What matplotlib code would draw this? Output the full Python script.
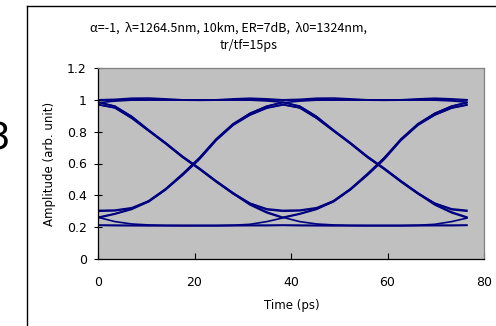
import matplotlib
matplotlib.use("Agg")
import matplotlib.pyplot as plt
from matplotlib.lines import Line2D
import numpy as np

# ---- data (one bit slot, sample centre -> next centre) ----
bit_period = 38.3
slot_t = [0, 3.5, 7, 10.5, 14, 17.5, 21, 24.5, 28, 31.5, 35, 38.3]

fall_110_101 = [0.985, 0.96, 0.895, 0.81, 0.73, 0.645, 0.57, 0.49, 0.415, 0.35, 0.31, 0.30]
fall_110_100 = [0.985, 0.96, 0.895, 0.81, 0.73, 0.645, 0.57, 0.49, 0.415, 0.345, 0.295, 0.262]
fall_010_101 = [0.97, 0.95, 0.885, 0.805, 0.725, 0.64, 0.565, 0.485, 0.41, 0.35, 0.315, 0.305]
fall_010_100 = [0.97, 0.95, 0.885, 0.805, 0.725, 0.64, 0.565, 0.485, 0.41, 0.34, 0.29, 0.258]

rise_001_011 = [0.262, 0.285, 0.315, 0.365, 0.44, 0.53, 0.63, 0.75, 0.845, 0.915, 0.96, 0.982]
rise_001_010 = [0.258, 0.282, 0.312, 0.36, 0.435, 0.525, 0.625, 0.745, 0.84, 0.905, 0.95, 0.97]
rise_101_011 = [0.30, 0.303, 0.318, 0.36, 0.435, 0.53, 0.635, 0.755, 0.85, 0.915, 0.96, 0.985]
rise_101_010 = [0.305, 0.307, 0.322, 0.365, 0.44, 0.535, 0.635, 0.75, 0.845, 0.905, 0.948, 0.968]

high_111 = [1.0, 1.0, 1.0, 1.0, 1.0, 0.998, 0.997, 0.998, 1.0, 1.0, 1.0, 1.0]
high_bump = [1.0, 1.003, 1.01, 1.011, 1.006, 1.0, 0.998, 1.0, 1.006, 1.01, 1.006, 1.0]
high_011 = [0.982, 0.992, 0.998, 1.0, 1.0, 1.0, 1.0, 1.0, 1.0, 1.0, 1.0, 1.0]
high_110 = [1.0, 1.0, 1.0, 1.0, 1.0, 1.0, 1.0, 1.0, 1.0, 0.998, 0.993, 0.985]

low_000 = [0.212, 0.212, 0.211, 0.21, 0.21, 0.21, 0.21, 0.21, 0.211, 0.212, 0.212, 0.212]
low_100 = [0.262, 0.235, 0.22, 0.214, 0.211, 0.21, 0.21, 0.21, 0.21, 0.21, 0.21, 0.212]
low_001 = [0.212, 0.21, 0.21, 0.21, 0.21, 0.21, 0.21, 0.21, 0.212, 0.218, 0.235, 0.258]

slot_traces = [fall_110_101, fall_110_100, fall_010_101, fall_010_100,
               rise_001_011, rise_001_010, rise_101_011, rise_101_010,
               high_111, high_bump, high_011, high_110,
               low_000, low_100, low_001]
n_slots = 2

title_line1 = "α=-1,  λ=1264.5nm, 10km, ER=7dB,  λ0=1324nm,"
title_line2 = "tr/tf=15ps"
x_ticks = [0, 20, 40, 60, 80]
y_ticks = [0, 0.2, 0.4, 0.6, 0.8, 1.0, 1.2]
y_tick_labels = ["0", "0.2", "0.4", "0.6", "0.8", "1", "1.2"]
x_label = "Time (ps)"
y_label = "Amplitude (arb. unit)"

# ---- figure ----
W, H = 496, 326
fig = plt.figure(figsize=(W / 100, H / 100), dpi=100)
fig.patch.set_facecolor("white")

ax = fig.add_axes([98 / W, 1 - 259 / H, (484 - 98) / W, (259 - 68) / H])
ax.set_facecolor("#C0C0C0")

trace_color = "#000080"
for k in range(n_slots):
    tt = np.array(slot_t) + k * bit_period
    for tr in slot_traces:
        ax.plot(tt, tr, color=trace_color, lw=1.2, solid_capstyle="butt")

ax.set_xlim(0, 80)
ax.set_ylim(0, 1.2)
ax.set_xticks(x_ticks)
ax.set_yticks(y_ticks)
ax.set_yticklabels(y_tick_labels)
for lab in ax.get_xticklabels() + ax.get_yticklabels():
    lab.set_fontfamily("DejaVu Sans")
    lab.set_fontsize(9)
ax.tick_params(axis="x", direction="in", length=4, width=0.8, pad=12)
ax.tick_params(axis="y", direction="inout", length=6, width=0.8, pad=5)

for s in ["top", "right"]:
    ax.spines[s].set_color("#808080")
    ax.spines[s].set_linewidth(0.9)
for s in ["left", "bottom"]:
    ax.spines[s].set_color("black")
    ax.spines[s].set_linewidth(0.9)

fig.text(292 / W, 1 - 306 / H, x_label, ha="center", va="center",
         family="DejaVu Sans", fontsize=8.5)
fig.text(50 / W, 1 - 164 / H, y_label, ha="center", va="center", rotation=90,
         family="DejaVu Sans", fontsize=8.5)

cjk = ["Noto Sans CJK JP", "DejaVu Sans"]
fig.text(228 / W, 1 - 28 / H, title_line1, ha="center", va="center",
         family=cjk, fontsize=9)
fig.text(249 / W, 1 - 45 / H, title_line2, ha="center", va="center",
         family=cjk, fontsize=9)

# outer frame (left and top edges visible)
fig.add_artist(Line2D([27 / W, 27 / W], [0, 1 - 6 / H], color="black", lw=1.0,
                      transform=fig.transFigure))
fig.add_artist(Line2D([27 / W, 1], [1 - 6 / H, 1 - 6 / H], color="black", lw=1.0,
                      transform=fig.transFigure))

# partial panel digit at the left edge
fig.text(10 / W, 1 - 140 / H, "3", ha="right", va="center",
         family="DejaVu Sans", fontsize=27)

fig.savefig("out.png", dpi=100)
